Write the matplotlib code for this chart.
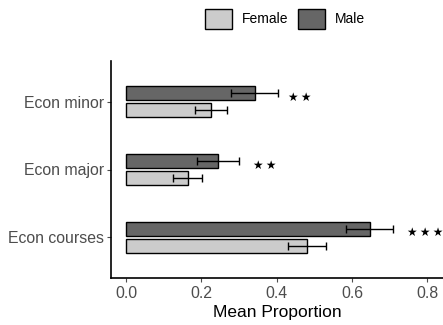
import matplotlib
matplotlib.use("Agg")
import matplotlib.pyplot as plt
from matplotlib.patches import Patch
import numpy as np

plt.rcParams["font.family"] = ["Liberation Sans", "DejaVu Sans"]

# Data
categories = ["Econ courses", "Econ major", "Econ minor"]
female_mean = [0.481, 0.164, 0.226]
female_lo = [0.429, 0.126, 0.183]
female_hi = [0.531, 0.201, 0.268]
male_mean = [0.647, 0.245, 0.343]
male_lo = [0.584, 0.189, 0.279]
male_hi = [0.710, 0.300, 0.404]
stars = ["\u2605\u2009\u2605\u2009\u2605", "\u2605\u2009\u2605", "\u2605\u2009\u2605"]
star_x = [0.747, 0.337, 0.429]

female_color = "#CCCCCC"
male_color = "#666666"

fig = plt.figure(figsize=(4.43, 3.25), dpi=100)
ax = fig.add_axes([111 / 443, 47 / 325, 332 / 443, 217 / 325])

y = np.arange(len(categories))
off = 0.125
h = 0.21

ax.barh(y - off, female_mean, height=h, color=female_color, edgecolor="black", linewidth=1.0, zorder=2)
ax.barh(y + off, male_mean, height=h, color=male_color, edgecolor="black", linewidth=1.0, zorder=2)

fm = np.array(female_mean)
mm = np.array(male_mean)
ax.errorbar(fm, y - off, xerr=[fm - np.array(female_lo), np.array(female_hi) - fm],
            fmt="none", ecolor="black", elinewidth=1.0, capsize=2.8, capthick=1.0, zorder=3)
ax.errorbar(mm, y + off, xerr=[mm - np.array(male_lo), np.array(male_hi) - mm],
            fmt="none", ecolor="black", elinewidth=1.0, capsize=2.8, capthick=1.0, zorder=3)

for yi, s, sx in zip(y, stars, star_x):
    ax.text(sx, yi + off - 0.06, s, ha="left", va="center", fontsize=8.5, color="black",
            family="DejaVu Sans")

ax.set_xlim(-0.04, 0.842)
ax.set_ylim(-0.6, 2.6)
ax.set_yticks(y)
ax.set_yticklabels(categories)
ax.set_xticks([0.0, 0.2, 0.4, 0.6, 0.8])
ax.set_xticklabels(["0.0", "0.2", "0.4", "0.6", "0.8"])
ax.tick_params(axis="both", colors="#4D4D4D", labelsize=11.4, length=3, width=0.8)
ax.tick_params(axis="y", pad=2)
ax.tick_params(axis="x", pad=3)
ax.set_xlabel("Mean Proportion", fontsize=12.5, color="black", labelpad=3)

for side in ["top", "right"]:
    ax.spines[side].set_visible(False)
for side in ["left", "bottom"]:
    ax.spines[side].set_linewidth(1.2)
    ax.spines[side].set_color("black")

handles = [Patch(facecolor=female_color, edgecolor="black", linewidth=1.0),
           Patch(facecolor=male_color, edgecolor="black", linewidth=1.0)]
fig.legend(handles, ["Female", "Male"], loc="center", bbox_to_anchor=(285 / 443, 1 - 19 / 325),
           ncol=2, frameon=False, fontsize=10, handlelength=1.94, handleheight=1.85,
           handletextpad=0.72, columnspacing=0.65, borderpad=0)

fig.savefig("out.png", dpi=100)
